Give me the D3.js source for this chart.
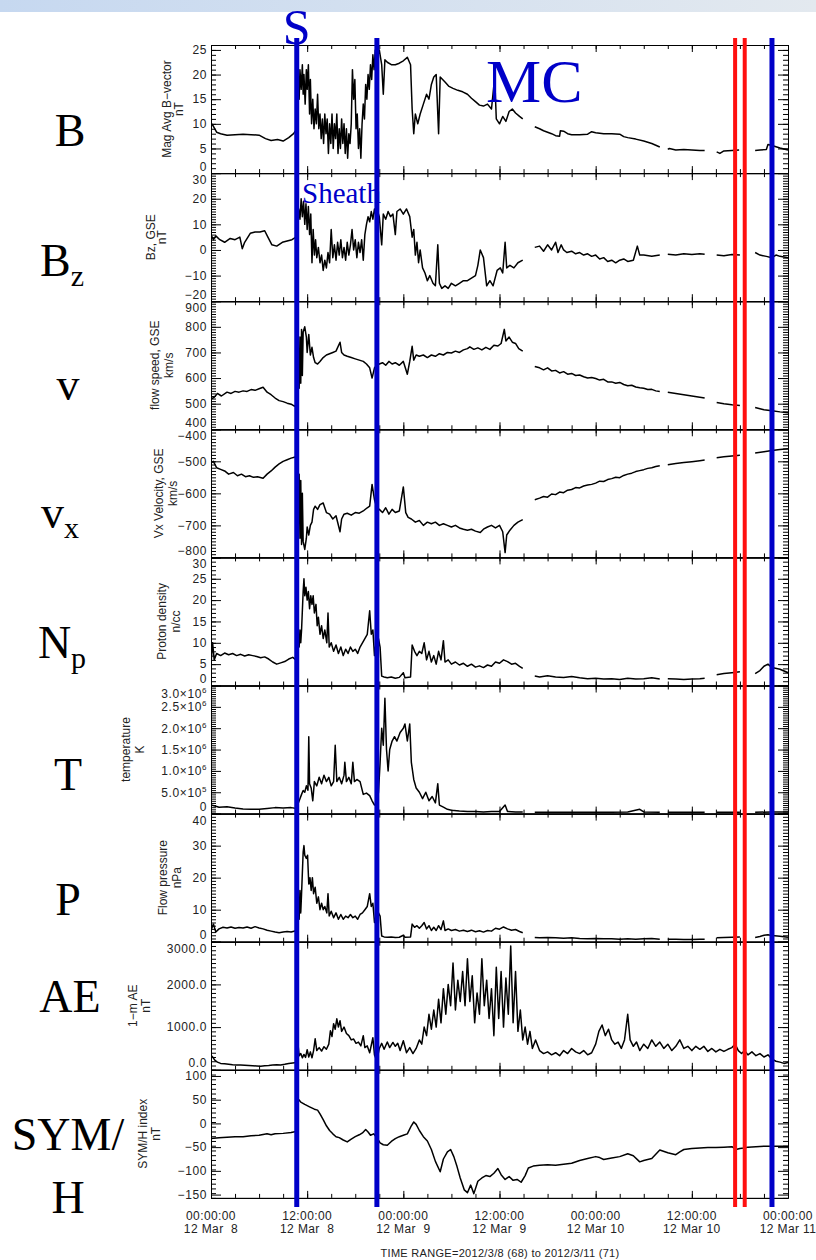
<!DOCTYPE html>
<html>
<head>
<meta charset="utf-8">
<script src="https://cdn.jsdelivr.net/npm/d3@7"></script>
<style>
  body { margin: 0; background: #fff; }
  svg { display: block; }
</style>
</head>
<body>
<div id="chart"></div>
<script>
// hours since 2012-03-08 00:00 UT, value; null = data gap
const magB = [
  [0,10.2],[0.3,9.5],[0.7,8.3],[1.2,8.0],[2,7.7],[3,7.8],[4,7.9],[5,7.8],[6,7.7],[6.8,7.0],[7.5,6.6],[8.3,6.8],[9,6.5],[9.7,7.2],[10.3,8.0],[10.6,8.7],
  [10.8,12],[10.9,18],[11.0,15],[11.1,21],[11.25,17],[11.4,22],[11.5,16],[11.6,20],[11.75,14],[11.9,21],[12.0,17],[12.15,22],[12.3,12],[12.4,19],[12.55,10],[12.7,15],[12.85,9],[13.0,13],[13.15,10],[13.3,16],[13.45,9],[13.6,12],[13.75,7],[13.9,11],[14.05,6],[14.2,12],[14.35,8],[14.5,11],[14.65,4],[14.8,10],[14.95,6],[15.1,12],[15.25,5],[15.4,10],[15.55,7],[15.7,12],[15.85,4],[16.0,9],[16.15,5],[16.3,11],[16.45,6],[16.6,10],[16.75,4],[16.9,9],[17.05,3],[17.2,8],[17.35,6],[17.5,10],[17.65,21],[17.8,15],[17.95,19],[18.1,9],[18.25,12],[18.4,5],[18.55,9],[18.7,3],[18.85,10],[19.0,14],[19.15,11],[19.3,18],[19.45,15],[19.6,20],[19.75,17],[19.9,22],[20.05,19],[20.2,24],[20.35,21],[20.5,25],[20.65,23],
  [20.8,24],[21.0,25],[21.3,22],[21.5,16],[21.7,23],[22.0,22.5],[22.5,22],[23.0,22],[23.5,22.3],[24.0,22.8],[24.5,23.5],[24.9,22],[25.1,13],[25.3,8],[25.5,12],[25.8,10],[26.1,12],[26.5,14],[26.9,16],[27.2,15],[27.5,18],[27.8,19.5],[28.1,20],[28.4,8],[28.6,19.5],[28.9,19],[29.2,18.5],[29.7,17.6],[30.2,17.2],[30.8,16.8],[31.4,16.5],[32.0,16.0],[32.5,15.2],[33.0,14.5],[33.5,13.8],[34.0,13.6],[34.5,14],[35.0,13],[35.4,19.5],[35.6,11],[36.0,10],[36.4,11.5],[36.8,10.5],[37.2,12.5],[37.6,13],[38.0,12.2],[38.5,11.5],[38.9,11],[38.95,null],
  [40.4,9.4],[41.0,9.0],[41.5,8.6],[42,8.3],[42.5,8.0],[43,7.6],[43.5,7.5],[43.6,8.6],[44,8.5],[44.5,8.0],[45,7.8],[46,7.8],[47,7.9],[47.5,8.4],[48,8.2],[49,8.0],[50,8.0],[51,7.9],[51.5,7.4],[52,7.2],[53,6.9],[54,6.5],[55,6.0],[56,5.3],[56.1,null],
  [57.0,4.8],[57.2,5.0],[58,4.7],[59,4.8],[60,4.7],[61,4.6],[61.6,4.6],[61.7,null],
  [63.1,4.3],[63.5,4.0],[64,4.5],[65,4.6],[65.9,4.7],[66.0,null],
  [67.9,4.6],[68.5,4.7],[69.3,4.8],[69.5,5.8],[70,5.6],[71,5.1],[72,4.7]
];

const bzGse = [
  [0,6],[0.3,4],[0.6,5.5],[1.1,4],[1.7,3],[2.4,4.5],[3,4],[3.6,5],[3.9,0.5],[4.2,3],[4.9,6.5],[5.5,7],[6.1,7],[6.7,7.5],[7.1,5],[7.6,2],[8.2,1.5],[8.9,3],[9.5,3.5],[10.1,4],[10.6,5],
  [10.8,9],[10.95,16],[11.1,12],[11.25,20],[11.4,13],[11.55,19],[11.7,10],[11.85,18],[12.0,8],[12.15,17],[12.3,6],[12.45,14],[12.6,-5],[12.75,8],[12.9,-2],[13.05,4],[13.2,-3],[13.4,1],[13.6,-5],[13.8,-2],[14.0,-8],[14.2,-4],[14.4,-7],[14.6,-1],[14.8,-5],[15.0,8],[15.2,-3],[15.4,2],[15.6,-4],[15.8,3],[16.0,-2],[16.2,4],[16.4,-3],[16.6,1],[16.8,-4],[17.0,3],[17.2,-2],[17.4,2],[17.6,8],[17.8,0],[18.0,4],[18.2,-3],[18.4,3],[18.6,-1],[18.8,4],[19.0,-4],[19.2,6],[19.4,10],[19.6,13],[19.8,11],[20.0,15],[20.2,12],[20.4,16],[20.6,13],
  [20.8,15],[21.0,13],[21.3,2],[21.5,14],[21.8,12],[22.1,15],[22.4,13],[22.7,14],[23.0,6],[23.2,15],[23.6,16],[24.0,14],[24.4,16],[24.8,13],[25.1,5],[25.3,8],[25.5,-2],[25.7,3],[25.9,-5],[26.1,0],[26.4,-7],[26.7,-9],[27.0,-12],[27.3,-10],[27.7,-13],[28.0,-14],[28.3,2],[28.5,-13],[28.8,-15],[29.2,-14],[29.6,-15],[30.0,-13],[30.5,-14],[31.0,-13],[31.5,-12],[32.0,-12],[32.5,-11],[33.0,-10],[33.3,-6],[33.6,0],[34.0,-3],[34.4,-14],[34.8,-12],[35.2,-14],[35.7,-8],[36.1,-7],[36.4,-9],[36.7,3],[36.9,-7],[37.3,-6],[37.8,-7],[38.3,-5],[38.9,-4],[38.95,null],
  [40.4,1],[41,1.5],[41.5,-0.5],[42,2],[42.5,0],[43,3],[43.3,-1],[43.7,2],[44,0],[44.4,-1],[45,-0.5],[45.5,-1.5],[46,-1],[46.5,-2],[47,-1.5],[47.5,-2.5],[48,-2],[48.5,-3.5],[49,-3],[49.5,-4.5],[50,-4],[50.5,-5],[51,-4],[51.5,-3.5],[52,-4.5],[52.7,-4],[53.2,1.5],[53.5,-2],[54,-2],[55,-2.5],[56,-2],[56.1,null],
  [57,-1.7],[58,-2],[59,-1.5],[60,-1.8],[61,-1.5],[61.6,-1.7],[61.7,null],
  [63.1,-2],[64,-2.3],[65,-1.8],[66,-2],[66.1,null],
  [67.9,-1],[68.5,-2],[69.3,-2.5],[70,-3],[70.5,-2],[71,-2.5],[72,-3]
];

const flowSpeed = [
  [0,518],[0.4,525],[0.8,540],[1.3,530],[2,545],[2.5,540],[3,548],[3.5,545],[4,550],[4.5,548],[5,555],[5.5,552],[6,558],[6.5,564],[7,545],[7.5,535],[8,522],[8.5,512],[9,508],[9.5,502],[10,498],[10.4,490],[10.7,495],
  [10.8,520],[10.9,700],[11.0,560],[11.1,760],[11.2,580],[11.3,790],[11.4,610],[11.5,780],[11.7,800],[11.9,760],[12.0,700],[12.2,770],[12.4,690],[12.6,720],[12.8,680],[13.0,660],[13.3,655],[13.6,665],[14.0,680],[14.4,690],[14.8,695],[15.2,700],[15.6,705],[16.1,740],[16.3,700],[16.6,690],[17.0,685],[17.5,680],[18.0,675],[18.5,670],[19.0,665],[19.4,655],[19.8,640],[20.1,600],[20.4,640],[20.7,650],
  [21.0,655],[21.4,660],[21.8,650],[22.2,665],[22.6,655],[23.0,660],[23.5,650],[24.0,665],[24.5,615],[24.8,665],[25.1,724],[25.3,670],[25.6,690],[26.0,685],[26.5,690],[27.0,680],[27.5,690],[28.0,685],[28.5,695],[29.0,690],[29.5,700],[30.0,698],[30.5,705],[31.0,700],[31.5,710],[32.0,715],[32.3,722],[32.8,712],[33.3,718],[33.8,710],[34.3,720],[34.8,712],[35.3,728],[35.8,725],[36.2,735],[36.6,790],[36.8,745],[37.2,760],[37.6,740],[38.0,735],[38.4,715],[38.9,705],[38.95,null],
  [40.4,645],[41,640],[41.5,632],[42,640],[42.5,628],[43,630],[43.5,620],[44,625],[44.5,615],[45,618],[45.5,610],[46,612],[46.5,605],[47,600],[47.5,602],[48,598],[48.5,592],[49,595],[49.5,585],[50,585],[50.5,580],[51,583],[51.5,575],[52,570],[52.5,572],[53,565],[53.5,562],[54,560],[54.5,555],[55,556],[55.5,550],[56,548],[56.1,null],
  [57,545],[58,540],[59,535],[60,530],[61,525],[61.6,522],[61.7,null],
  [63.1,505],[64,500],[65,496],[66,493],[66.1,null],
  [67.9,485],[68.5,480],[69,476],[70,472],[71,468],[72,465]
];

const vxGse = [
  [0,-505],[0.3,-500],[0.7,-520],[1.2,-525],[1.7,-530],[2.2,-540],[2.8,-535],[3.3,-545],[3.8,-540],[4.3,-548],[4.8,-545],[5.3,-550],[5.8,-548],[6.5,-553],[7,-540],[7.5,-530],[8,-518],[8.5,-508],[9,-500],[9.5,-495],[10,-490],[10.4,-487],[10.7,-485],
  [10.8,-510],[10.9,-690],[11.0,-540],[11.1,-740],[11.2,-560],[11.3,-760],[11.4,-600],[11.5,-750],[11.7,-775],[11.9,-740],[12.0,-705],[12.2,-730],[12.4,-700],[12.6,-690],[12.8,-650],[13.0,-640],[13.3,-650],[13.6,-635],[14.0,-630],[14.4,-660],[14.8,-665],[15.2,-680],[15.6,-670],[16.1,-720],[16.3,-680],[16.6,-665],[17.0,-662],[17.5,-668],[18.0,-660],[18.5,-662],[19.0,-655],[19.5,-645],[19.8,-640],[20.1,-572],[20.4,-620],[20.7,-645],
  [21.0,-650],[21.4,-660],[21.8,-645],[22.2,-665],[22.6,-650],[23.0,-660],[23.5,-655],[24.0,-580],[24.3,-660],[24.6,-675],[25.0,-680],[25.5,-690],[26.0,-685],[26.5,-700],[27.0,-690],[27.5,-695],[28.0,-690],[28.5,-700],[29.0,-695],[29.5,-700],[30.0,-705],[30.5,-700],[31.0,-708],[31.5,-712],[32.0,-715],[32.5,-712],[33.0,-718],[33.6,-722],[34.0,-712],[34.5,-705],[35.0,-700],[35.5,-708],[36.0,-700],[36.4,-720],[36.7,-785],[36.9,-730],[37.3,-715],[37.8,-700],[38.3,-690],[38.9,-682],[38.95,null],
  [40.4,-620],[41,-615],[41.5,-610],[42,-612],[42.5,-602],[43,-604],[43.5,-596],[44,-598],[44.5,-590],[45,-588],[45.5,-582],[46,-583],[46.5,-577],[47,-574],[47.5,-572],[48,-568],[48.5,-562],[49,-563],[49.5,-557],[50,-554],[50.5,-550],[51,-551],[51.5,-544],[52,-540],[52.5,-537],[53,-532],[53.5,-529],[54,-526],[54.5,-522],[55,-520],[55.5,-516],[56,-514],[56.1,null],
  [57,-511],[58,-507],[59,-504],[60,-501],[61,-498],[61.6,-496],[61.7,null],
  [63.1,-489],[64,-486],[65,-483],[66,-481],[66.1,null],
  [67.9,-474],[69,-470],[70,-466],[71,-463],[72,-461]
];

const protonDensity = [
  [0,5],[0.2,10],[0.4,6],[0.7,7.5],[1.2,7.0],[1.7,7.6],[2.2,7.2],[2.7,7.5],[3.2,7.0],[3.7,7.3],[4.2,6.9],[4.7,7.2],[5.2,7.0],[5.7,6.8],[6.2,6.5],[6.7,6.7],[7.2,6.2],[7.7,5.5],[8.2,5.0],[8.7,5.3],[9.2,5.6],[9.7,6.2],[10.2,6.6],[10.6,6.0],
  [10.8,7],[10.9,12],[11.0,9],[11.1,13],[11.2,10],[11.3,13],[11.5,22],[11.6,25],[11.7,21],[11.85,23],[12.0,20],[12.15,22],[12.3,18],[12.45,21],[12.6,19],[12.75,21],[12.9,17],[13.1,19],[13.25,14],[13.4,16],[13.6,12],[13.8,14],[14.0,11],[14.2,13],[14.45,10],[14.6,17],[14.75,9],[15.0,10],[15.3,8],[15.6,9.5],[15.9,7.5],[16.2,9],[16.5,7],[16.8,8.5],[17.1,7.5],[17.4,9],[17.7,8],[18.0,8.5],[18.3,7.5],[18.6,9],[18.9,10],[19.2,11],[19.5,12],[19.8,17.5],[20.0,12],[20.2,13],[20.4,7],[20.6,10],[20.9,11],[21.1,9],[21.3,2.2],
  [21.6,2],[22.0,1.8],[22.5,2.0],[23.0,1.7],[23.5,1.9],[24.0,3],[24.2,1.8],[24.9,2],[25.1,9.5],[25.4,8],[25.7,7],[26.0,8],[26.3,7.5],[26.6,10],[26.9,6],[27.2,8],[27.5,5.5],[27.8,7],[28.1,5],[28.4,8],[28.7,6],[29.0,10.5],[29.2,5.5],[29.6,6],[30.0,5],[30.5,5.5],[31.0,4.8],[31.5,5.2],[32.0,4.5],[32.5,5],[33.0,4.3],[33.5,4.6],[34.0,4.2],[34.5,4.8],[35.0,4.5],[35.5,5.5],[36.0,5.2],[36.5,6],[37.0,5.6],[37.5,5],[38.0,5.2],[38.5,4.5],[38.9,4.0],[38.95,null],
  [40.4,2.2],[41,2.0],[42,2.3],[43,2.0],[44,1.9],[45,2.1],[46,1.8],[47,1.6],[48,1.7],[49,1.5],[50,1.6],[51,1.4],[52,1.7],[53,1.5],[54,1.6],[55,1.8],[56,1.5],[56.1,null],
  [57,1.6],[58,1.5],[59,1.4],[60,1.5],[61,1.6],[61.6,1.7],[61.7,null],
  [63.1,2.5],[64,2.8],[65,3.0],[66,3.2],[66.1,null],
  [67.9,2.8],[68.5,3.5],[69,4.5],[69.5,5.0],[70,4.2],[71,3.8],[72,3.0]
];

const temperature = [
  [0,2.0e5],[0.5,1.8e5],[1,1.5e5],[2,1.6e5],[3,1.3e5],[4,1.1e5],[5,1.0e5],[6,1.0e5],[7,1.2e5],[8,1.4e5],[9,1.3e5],[10,1.4e5],[10.7,1.2e5],
  [10.9,2.5e5],[11.1,3.5e5],[11.3,4.5e5],[11.5,5.4e5],[11.7,5.0e5],[11.9,6.5e5],[12.1,5.5e5],[12.2,1.8e6],[12.3,7.0e5],[12.5,6.0e5],[12.7,3.0e5],[12.9,7.5e5],[13.2,6.5e5],[13.5,8.5e5],[13.8,7.0e5],[14.1,9.0e5],[14.4,7.5e5],[14.7,8.5e5],[15.0,6.5e5],[15.3,7.5e5],[15.5,1.6e6],[15.7,7.5e5],[16.0,8.5e5],[16.3,7.0e5],[16.6,9.0e5],[16.7,1.2e6],[16.9,7.5e5],[17.2,8.5e5],[17.5,7.0e5],[17.7,1.2e6],[17.9,7.5e5],[18.2,8.0e5],[18.6,7.5e5],[19.0,4.5e5],[19.4,4.8e5],[19.8,4.2e5],[20.1,3.0e5],[20.4,2.0e5],[20.7,2.5e5],
  [20.9,5.0e5],[21.1,1.2e6],[21.3,2.0e6],[21.5,1.6e6],[21.7,2.7e6],[21.9,1.5e6],[22.1,1.0e6],[22.3,1.5e6],[22.6,1.7e6],[22.9,1.8e6],[23.2,1.7e6],[23.6,1.9e6],[24.0,2.0e6],[24.2,2.1e6],[24.5,1.7e6],[24.8,2.1e6],[25.0,1.2e6],[25.3,8.0e5],[25.6,6.0e5],[26.0,5.0e5],[26.4,3.5e5],[26.8,5.0e5],[27.2,3.0e5],[27.6,4.0e5],[28.0,2.5e5],[28.3,7.0e5],[28.5,2.0e5],[29.0,1.5e5],[29.5,1.0e5],[30.0,8.0e4],[31,6.0e4],[32,5.0e4],[33,5.0e4],[34,4.0e4],[35,5.0e4],[36,5.0e4],[36.7,2.0e5],[37,5.0e4],[38,4.0e4],[38.9,4.0e4],[38.95,null],
  [40.4,3.0e4],[42,3.0e4],[44,3.0e4],[46,3.0e4],[48,3.0e4],[50,3.0e4],[52,4.0e4],[53.5,1.0e5],[54,4.0e4],[56,3.0e4],[56.1,null],
  [57,3.0e4],[59,3.0e4],[61.6,3.0e4],[61.7,null],
  [63.1,3.0e4],[65,3.0e4],[66,3.0e4],[66.1,null],
  [67.9,3.0e4],[70,4.0e4],[72,4.0e4]
];

const flowPressure = [
  [0,3.5],[0.3,5.5],[0.6,3.0],[1,4.0],[1.5,4.5],[2,4.3],[2.5,4.6],[3,4.2],[3.5,4.4],[4,4.3],[4.5,4.6],[5,4.2],[5.5,4.7],[6,4.3],[6.5,4.0],[7,3.6],[7.5,3.3],[8,3.0],[8.5,2.8],[9,3.0],[9.5,3.2],[10,3.0],[10.6,3.4],
  [10.8,5],[10.9,12],[11.0,7],[11.1,16],[11.2,9],[11.3,15],[11.5,28],[11.6,30],[11.7,27],[11.9,26],[12.05,27],[12.2,18],[12.35,20],[12.5,16],[12.65,20],[12.8,15],[13.0,17],[13.2,12],[13.4,14],[13.6,10],[13.8,12],[14.0,10],[14.2,11],[14.45,9],[14.6,15],[14.75,8],[15.0,9.5],[15.3,7.5],[15.6,9],[15.9,7],[16.2,8.5],[16.5,7],[16.8,8],[17.1,7.5],[17.4,8.5],[17.7,7.5],[18.0,8],[18.3,7],[18.6,8.5],[18.9,9],[19.2,10],[19.5,11],[19.8,15],[20.0,11],[20.2,12],[20.4,6],[20.6,8],[20.9,9],[21.1,8],[21.3,1.8],
  [21.6,1.5],[22.0,1.4],[22.5,1.5],[23.0,1.3],[23.5,1.4],[24.0,2.0],[24.2,1.4],[24.9,1.5],[25.1,5.5],[25.4,4.5],[25.7,5],[26.0,4.2],[26.3,5],[26.6,6],[26.9,4],[27.2,5],[27.5,3.5],[27.8,4.5],[28.1,3.5],[28.4,5],[28.7,3.8],[29.0,6.5],[29.2,3.5],[29.6,4],[30.0,3.5],[30.5,3.8],[31.0,3.3],[31.5,3.6],[32.0,3.2],[32.5,3.6],[33.0,3.1],[33.5,3.4],[34.0,3.0],[34.5,3.5],[35.0,3.3],[35.5,4.2],[36.0,3.9],[36.5,4.6],[37.0,4.0],[37.5,3.6],[38.0,3.8],[38.5,3.2],[38.9,2.8],[38.95,null],
  [40.4,1.3],[41,1.2],[42,1.3],[43,1.2],[44,1.1],[45,1.2],[46,1.0],[47,0.9],[48,1.0],[49,0.9],[50,0.9],[51,0.8],[52,0.9],[53,0.8],[54,0.9],[55,1.0],[56,0.8],[56.1,null],
  [57,0.8],[58,0.8],[59,0.7],[60,0.7],[61,0.8],[61.6,0.8],[61.7,null],
  [63.1,1.2],[64,1.3],[65,1.4],[66,1.5],[66.1,null],
  [67.9,1.3],[68.5,1.6],[69,2.0],[69.5,2.2],[70,1.9],[71,1.7],[72,1.4]
];

const aeIndex = [
  [0,340],[0.2,300],[0.5,220],[0.8,180],[1.2,150],[1.7,140],[2.2,130],[2.7,120],[3.2,115],[3.7,110],[4.2,105],[4.7,100],[5.2,95],[5.7,90],[6.2,85],[6.7,95],[7.2,100],[7.7,110],[8.2,120],[8.7,115],[9.2,130],[9.7,150],[10.2,160],[10.7,170],
  [10.85,610],[11.0,330],[11.2,380],[11.4,280],[11.6,360],[11.8,290],[12.0,470],[12.2,300],[12.4,420],[12.6,280],[12.8,450],[13.0,727],[13.2,450],[13.5,520],[13.8,440],[14.1,540],[14.4,480],[14.7,600],[14.9,914],[15.1,780],[15.3,1080],[15.5,950],[15.7,1195],[15.9,1000],[16.1,1150],[16.3,900],[16.6,1000],[16.9,850],[17.2,800],[17.5,700],[17.8,720],[18.1,620],[18.4,650],[18.7,560],[19.0,800],[19.2,520],[19.5,560],[19.8,400],[20.2,750],[20.4,350],[20.7,210],
  [21.0,500],[21.3,620],[21.6,480],[22.0,650],[22.3,520],[22.7,640],[23.0,550],[23.3,620],[23.6,450],[24.0,680],[24.4,400],[24.8,520],[25.2,380],[25.6,500],[26.0,700],[26.3,600],[26.6,1000],[26.9,800],[27.2,1300],[27.5,950],[27.8,1400],[28.1,1000],[28.4,1650],[28.7,1100],[29.0,1900],[29.3,1300],[29.6,2000],[29.9,1500],[30.2,2500],[30.5,1400],[30.8,2100],[31.1,1600],[31.4,2300],[31.7,1500],[32.0,2600],[32.3,1600],[32.6,2200],[32.9,1100],[33.2,1800],[33.5,1300],[33.8,2600],[34.1,1500],[34.4,2100],[34.7,1200],[35.0,1900],[35.3,800],[35.6,2400],[35.9,1200],[36.2,2300],[36.5,1000],[36.8,2150],[37.1,1300],[37.4,2900],[37.7,1100],[38.0,2300],[38.3,900],[38.6,1400],[38.9,700],[39.2,1000],[39.5,600],[39.8,900],[40.1,500],[40.5,700],
  [41,450],[41.5,380],[42,420],[42.5,350],[43,400],[43.5,330],[44,450],[44.5,380],[45,500],[45.5,420],[46,380],[46.5,450],[47,350],[47.5,400],[48,600],[48.4,900],[48.8,1050],[49.2,800],[49.6,950],[50,700],[50.4,600],[50.8,650],[51.2,500],[51.6,700],[52,1300],[52.3,700],[52.7,550],[53.1,650],[53.5,450],[54,600],[54.5,500],[55,700],[55.5,550],[56,650],[56.5,500],[57,600],[57.5,450],[58,550],[58.5,700],[59,500],[59.5,550],[60,450],[60.5,550],[61,480],[61.5,550],[62,430],[62.5,500],[63,420],[63.5,480],[64,430],[64.5,480],[65,520],[65.4,600],[65.8,450],[66.2,380],[66.6,450],[67,350],[67.5,420],[68,330],[68.5,380],[69,300],[69.5,350],[70,250],[70.5,200],[71,180],[71.5,150],[72,170]
];

const symH = [
  [0,-32],[1,-30],[2,-29],[3,-28],[4,-28],[5,-26],[6,-25],[7,-22],[7.5,-24],[8,-22],[9,-21],[10,-19],[10.6,-17],[10.75,-5],[10.85,52],[11.2,45],[11.7,40],[12.3,35],[12.9,30],[13.3,28],[13.6,20],[14.0,8],[14.4,-5],[14.8,-15],[15.2,-22],[15.6,-28],[16.0,-30],[16.5,-35],[17.0,-39],[17.5,-33],[18.0,-28],[18.5,-24],[18.9,-20],[19.3,-13],[19.6,-18],[19.9,-25],[20.3,-22],[20.7,-30],[21.1,-41],[21.5,-45],[22.0,-46],[22.5,-38],[23.0,-32],[23.5,-28],[24.0,-25],[24.5,-22],[25.0,-5],[25.3,3],[25.6,-2],[26.0,-15],[26.5,-28],[27.0,-37],[27.5,-55],[28.0,-80],[28.6,-102],[29.0,-75],[29.5,-60],[29.9,-55],[30.3,-70],[30.7,-91],[31.1,-115],[31.6,-140],[32.0,-146],[32.4,-130],[32.8,-148],[33.3,-122],[33.8,-115],[34.3,-110],[34.8,-112],[35.3,-105],[35.8,-95],[36.2,-108],[36.7,-118],[37.2,-112],[37.7,-120],[38.2,-118],[38.7,-124],[39.2,-110],[39.6,-94],[40.2,-90],[41,-88],[42,-87],[43,-88],[44,-86],[45,-84],[46,-78],[47,-74],[48,-70],[48.5,-72],[49,-76],[50,-73],[51,-70],[52,-64],[52.7,-68],[53.5,-81],[54,-78],[55,-74],[56,-56],[57,-62],[58,-66],[58.5,-60],[59,-55],[60,-53],[61,-52],[62,-51],[63,-51],[64,-50],[65,-49],[65.5,-55],[66,-53],[66.5,-52],[67,-50],[68,-49],[69,-48],[70,-48],[71,-48],[72,-48]
];

// axis tick values
const bTicks = [0, 5, 10, 15, 20, 25];
const bzTicks = [-20, -10, 0, 10, 20, 30];
const vTicks = [400, 500, 600, 700, 800, 900];
const vxTicks = [-800, -700, -600, -500, -400];
const npTicks = [0, 5, 10, 15, 20, 25, 30];
const tempTicks = [0, 5e5, 1e6, 1.5e6, 2e6, 2.5e6, 3e6];
const pTicks = [0, 10, 20, 30, 40];
const aeTicks = [0, 1000, 2000, 3000];
const symTicks = [-150, -100, -50, 0, 50, 100];

const timeTicks = [0, 12, 24, 36, 48, 60, 72];
const timeLabels = ["00:00:00", "12:00:00", "00:00:00", "12:00:00", "00:00:00", "12:00:00", "00:00:00"];
const dateLabels = ["12 Mar\u00a0\u00a08", "12 Mar\u00a0\u00a08", "12 Mar\u00a0\u00a09", "12 Mar\u00a0\u00a09", "12 Mar 10", "12 Mar 10", "12 Mar 11"];

// event markers (hours)
const blueLines = [10.7, 20.7, 70.0];
const redLines = [65.4, 66.6];

const width = 816, height = 1260;
const plotLeft = 211, plotRight = 788, plotTop = 45, panelH = 128.1;

const x = d3.scaleLinear().domain([0, 72]).range([plotLeft, plotRight]);

const tempFmt = v => {
  if (v === 0) return "0";
  const e = Math.floor(Math.log10(v));
  return [(v / Math.pow(10, e)).toFixed(1) + "\u00d710", "" + e];
};
const minusFmt = v => v < 0 ? "\u2212" + (-v) : "" + v;

const panels = [
  { data: magB, domain: [0, 26], ticks: bTicks, minor: 1, fmt: minusFmt, title: ["Mag Avg B\u2212vector", "nT"], tx: [171, 183], sym: ["B"] },
  { data: bzGse, domain: [-20, 30], ticks: bzTicks, minor: 1, fmt: minusFmt, title: ["Bz, GSE", "nT"], tx: [155, 166], sym: ["B", "z"] },
  { data: flowSpeed, domain: [400, 900], ticks: vTicks, minor: 10, fmt: minusFmt, title: ["flow speed, GSE", "km/s"], tx: [159, 173], sym: ["v"] },
  { data: vxGse, domain: [-800, -400], ticks: vxTicks, minor: 10, fmt: minusFmt, title: ["Vx Velocity, GSE", "km/s"], tx: [163, 177], sym: ["v", "x"] },
  { data: protonDensity, domain: [0, 30], ticks: npTicks, minor: 1, fmt: minusFmt, title: ["Proton density", "n/cc"], tx: [166, 180], sym: ["N", "p"] },
  { data: temperature, domain: [0, 3e6], ticks: tempTicks, minor: 5e4, fmt: tempFmt, title: ["temperature", "K"], tx: [130, 144], sym: ["T"] },
  { data: flowPressure, domain: [0, 40], ticks: pTicks, minor: 1, fmt: minusFmt, title: ["Flow pressure", "nPa"], tx: [167, 181], sym: ["P"] },
  { data: aeIndex, domain: [0, 3000], ticks: aeTicks, minor: 100, fmt: d3.format(".1f"), title: ["1\u2212m AE", "nT"], tx: [137, 150], sym: ["AE"] },
  { data: symH, domain: [-157, 113], ticks: symTicks, minor: 10, fmt: minusFmt, title: ["SYM/H index", "nT"], tx: [147, 160], sym: ["SYM/", "H"] }
];

const svg = d3.select("#chart").append("svg")
  .attr("width", width)
  .attr("height", height);

// top banner
const grad = svg.append("defs").append("linearGradient").attr("id", "banner");
grad.append("stop").attr("offset", "0%").attr("stop-color", "#c6d8f0");
grad.append("stop").attr("offset", "100%").attr("stop-color", "#e3e9ef");
svg.append("rect").attr("x", 0).attr("y", 0).attr("width", width).attr("height", 12).attr("fill", "url(#banner)");

const tickFont = "'Liberation Sans', Arial, sans-serif";
const serif = "'Liberation Serif', 'Times New Roman', serif";

// big symbol labels on the far left (baseline positions)
const symPos = [
  { x: 70, y: 146 }, { x: 62, y: 276 }, { x: 68, y: 400 }, { x: 60, y: 528 },
  { x: 62, y: 658 }, { x: 68, y: 790 }, { x: 68, y: 915 }, { x: 70, y: 1012 }, { x: 68, y: 1150 }
];

panels.forEach((p, i) => {
  const top = plotTop + i * panelH;
  const bottom = top + panelH;
  const y = d3.scaleLinear().domain(p.domain).range([bottom, top]);
  const g = svg.append("g");

  const minorVals = d3.range(p.domain[0], p.domain[1] + 1e-9, p.minor);

  // y axes, ticks inward on both sides
  g.append("g").attr("transform", `translate(${plotLeft},0)`)
    .call(d3.axisLeft(y).tickValues(minorVals).tickSize(-5).tickSizeOuter(0).tickFormat(""));
  g.append("g").attr("transform", `translate(${plotLeft},0)`)
    .call(d3.axisLeft(y).tickValues(p.ticks).tickSize(-10).tickSizeOuter(0).tickFormat(""));
  g.append("g").attr("transform", `translate(${plotRight},0)`)
    .call(d3.axisRight(y).tickValues(minorVals).tickSize(-5).tickSizeOuter(0).tickFormat(""));
  g.append("g").attr("transform", `translate(${plotRight},0)`)
    .call(d3.axisRight(y).tickValues(p.ticks).tickSize(-10).tickSizeOuter(0).tickFormat(""));

  // x axes top and bottom of each panel
  const minorT = d3.range(0, 72.001, 3);
  [[top, d3.axisTop], [bottom, d3.axisBottom]].forEach(([yy, ax]) => {
    g.append("g").attr("transform", `translate(0,${yy})`)
      .call(ax(x).tickValues(minorT).tickSize(-4).tickSizeOuter(0).tickFormat(""));
    g.append("g").attr("transform", `translate(0,${yy})`)
      .call(ax(x).tickValues(timeTicks).tickSize(-7).tickSizeOuter(0).tickFormat(""));
  });

  // tick labels; labels at the panel edges are nudged inside so neighbours do not collide
  p.ticks.forEach(v => {
    const s = p.fmt(v);
    let ty = y(v) + 4.3;
    if (v === p.domain[1]) ty = top + (Array.isArray(s) ? 12.5 : 11);
    if (v === p.domain[0]) ty = bottom - 2.5;
    const t = g.append("text")
      .attr("x", plotLeft - 4)
      .attr("y", ty)
      .attr("text-anchor", "end")
      .attr("font-family", tickFont)
      .attr("font-size", 12)
      .attr("letter-spacing", 0.6)
      .attr("fill", "#222");
    if (Array.isArray(s)) {
      t.append("tspan").text(s[0]);
      t.append("tspan").attr("font-size", 8).attr("dy", -5).text(s[1]);
    } else {
      t.text(s);
    }
  });

  // axis title (two lines, rotated)
  const cy = (top + bottom) / 2;
  p.title.forEach((line, k) => {
    g.append("text")
      .attr("transform", `translate(${p.tx[k]},${cy}) rotate(-90)`)
      .attr("text-anchor", "middle")
      .attr("font-family", tickFont)
      .attr("font-size", 12)
      .attr("fill", "#222")
      .text(line);
  });

  // data line
  const clipId = "clip" + i;
  svg.append("clipPath").attr("id", clipId).append("rect")
    .attr("x", plotLeft).attr("y", top).attr("width", plotRight - plotLeft).attr("height", panelH);
  const line = d3.line()
    .defined(d => d[1] !== null)
    .x(d => x(d[0]))
    .y(d => y(d[1]));
  g.append("path")
    .datum(p.data)
    .attr("clip-path", `url(#${clipId})`)
    .attr("fill", "none")
    .attr("stroke", "#000")
    .attr("stroke-width", 1.5)
    .attr("stroke-linejoin", "round")
    .attr("d", line);

  // big symbol at left
  const sp = symPos[i];
  if (p.sym[0] === "SYM/") {
    svg.append("text").attr("x", sp.x).attr("y", sp.y).attr("text-anchor", "middle")
      .attr("font-family", serif).attr("font-size", 46).attr("fill", "#000").text(p.sym[0]);
    svg.append("text").attr("x", sp.x).attr("y", sp.y + 63).attr("text-anchor", "middle")
      .attr("font-family", serif).attr("font-size", 46).attr("fill", "#000").text(p.sym[1]);
  } else {
    const t = svg.append("text").attr("x", sp.x).attr("y", sp.y).attr("text-anchor", "middle")
      .attr("font-family", serif).attr("font-size", 46).attr("fill", "#000");
    t.append("tspan").text(p.sym[0]);
    if (p.sym[1]) t.append("tspan").attr("font-size", 30).attr("dy", 10).text(p.sym[1]);
  }
});

// time labels under bottom panel
const axisBottomY = plotTop + 9 * panelH;
timeTicks.forEach((t, k) => {
  svg.append("text").attr("x", x(t)).attr("y", axisBottomY + 22)
    .attr("text-anchor", "middle").attr("font-family", tickFont).attr("font-size", 12)
    .attr("letter-spacing", 0.4).attr("fill", "#222").text(timeLabels[k]);
  svg.append("text").attr("x", x(t)).attr("y", axisBottomY + 35)
    .attr("text-anchor", "middle").attr("font-family", tickFont).attr("font-size", 12)
    .attr("letter-spacing", 0.4).attr("fill", "#222").text(dateLabels[k]);
});
svg.append("text").attr("x", 500).attr("y", 1257)
  .attr("text-anchor", "middle").attr("font-family", tickFont).attr("font-size", 11)
  .attr("letter-spacing", 0.3).attr("fill", "#222").text("TIME RANGE=2012/3/8 (68) to 2012/3/11 (71)");

// event lines
svg.selectAll(".blue").data(blueLines).enter().append("line")
  .attr("x1", d => x(d)).attr("x2", d => x(d))
  .attr("y1", 38).attr("y2", 1207)
  .attr("stroke", "#0000c8").attr("stroke-width", 5);
svg.selectAll(".red").data(redLines).enter().append("line")
  .attr("x1", d => x(d)).attr("x2", d => x(d))
  .attr("y1", 38).attr("y2", 1207)
  .attr("stroke", "#ff1010").attr("stroke-width", 4);

// annotations
svg.append("text").attr("x", x(blueLines[0])).attr("y", 44).attr("text-anchor", "middle")
  .attr("font-family", serif).attr("font-size", 50).attr("fill", "#0000c8").text("S");
svg.append("text").attr("x", 302).attr("y", 203)
  .attr("font-family", serif).attr("font-size", 29).attr("fill", "#0000c8").text("Sheath");
svg.append("text").attr("x", 486).attr("y", 102)
  .attr("font-family", serif).attr("font-size", 62).attr("fill", "#0000c8").text("MC");
</script>
</body>
</html>
